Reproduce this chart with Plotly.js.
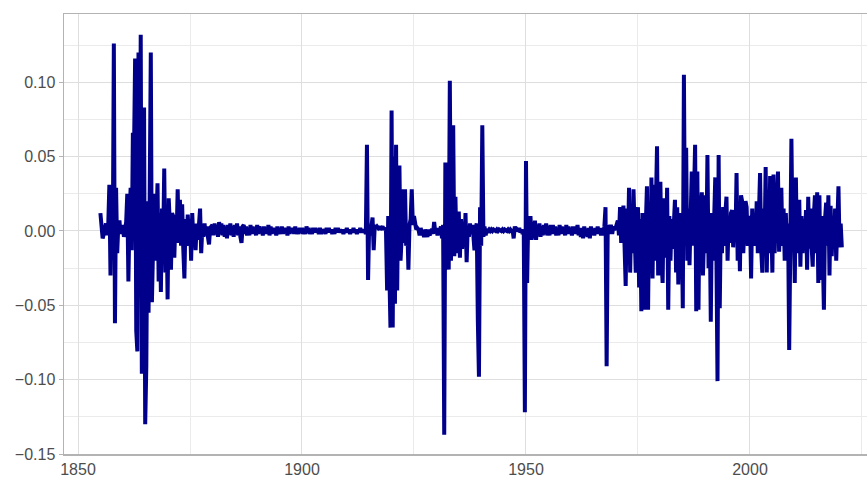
<!DOCTYPE html>
<html>
<head>
<meta charset="utf-8">
<script src="https://cdn.plot.ly/plotly-3.0.1.min.js"></script>
<style>
  html, body { margin: 0; padding: 0; background: #ffffff; overflow: hidden; }
  #chart { width: 867px; height: 480px; }
</style>
</head>
<body>
<div id="chart"></div>
<script>
// Quarterly observations, first sample at 1855.0, one sample every quarter year
const startYear = 1855;
const stepYears = 0.25;

const values = [
  // 1855-1879
  0.012, 0.004, -0.005, -0.002,
  0.003, 0.005, -0.003, 0.004,
  0.031, -0.030, 0.028, -0.018,
  0.126, -0.062, 0.029, -0.015,
  0.004, 0.007, -0.002, 0.003,
  0.004, -0.004, 0.002, 0.006,
  0.025, -0.034, 0.010, 0.029,
  -0.013, 0.066, 0.052, 0.116,
  -0.067, -0.081, 0.120, -0.040,
  0.132, -0.096, 0.040, 0.083,
  -0.130, -0.091, 0.020, -0.055,
  0.023, 0.120, -0.048, 0.015,
  0.025, -0.020, 0.018, 0.032,
  -0.034, 0.012, -0.041, 0.015,
  -0.010, 0.042, -0.028, 0.010,
  -0.046, 0.022, 0.005, -0.026,
  0.012, 0.010, -0.018, 0.008,
  -0.005, 0.028, -0.008, 0.021,
  -0.010, 0.018, -0.012, -0.032,
  0.008, -0.010, 0.011, -0.005,
  0.008, -0.020, 0.012, -0.006,
  0.004, -0.013, 0.005, -0.006,
  0.004, 0.015, -0.015, 0.002,
  -0.004, 0.005, -0.003, 0.003,
  -0.004, -0.009, 0.002, 0.003,
  // 1880-1913
  0.004, -0.003, 0.005, -0.002,
  0.003, -0.004, 0.006, -0.002,
  0.005, -0.003, 0.004, -0.004,
  0.003, -0.005, 0.004, -0.002,
  0.005, -0.003, 0.003, -0.004,
  0.004, -0.002, 0.005, -0.003,
  0.003, -0.004, -0.008, 0.003,
  0.004, -0.002, 0.003, -0.003,
  0.002, -0.003, 0.004, -0.002,
  0.003, -0.002, 0.002, -0.003,
  0.004, -0.002, 0.003, -0.001,
  0.002, -0.003, 0.003, -0.002,
  0.002, -0.002, 0.004, -0.003,
  0.003, -0.002, 0.002, -0.001,
  0.002, -0.003, 0.003, -0.002,
  0.001, -0.002, 0.003, -0.002,
  0.002, -0.001, 0.002, -0.003,
  0.003, -0.002, 0.002, -0.001,
  0.002, -0.002, 0.003, -0.002,
  0.001, -0.002, 0.002, -0.001,
  0.002, -0.002, 0.001, -0.002,
  0.003, -0.001, 0.002, -0.002,
  0.001, -0.002, 0.002, -0.001,
  0.002, -0.001, 0.001, -0.002,
  0.002, -0.002, 0.001, -0.001,
  0.001, -0.002, 0.002, -0.001,
  0.002, -0.001, 0.001, -0.002,
  0.001, -0.002, 0.002, -0.001,
  0.002, -0.001, 0.001, -0.001,
  0.001, -0.002, 0.001, -0.001,
  0.002, -0.001, 0.001, -0.002,
  0.001, -0.001, 0.002, -0.001,
  0.001, -0.002, 0.001, -0.001,
  0.002, -0.001, 0.001, -0.001,
  // 1914-1949
  0.001, -0.002, 0.058, -0.033,
  0.004, -0.003, 0.002, 0.009,
  -0.013, 0.004, 0.002, 0.003,
  0.002, 0.003, 0.001, 0.002,
  0.003, 0.001, 0.002, 0.000,
  -0.040, 0.010, -0.030, -0.065,
  0.081, -0.065, 0.050, -0.049,
  0.058, -0.040, 0.030, 0.044,
  -0.020, -0.004, 0.028, -0.008,
  0.028, -0.010, 0.005, -0.026,
  0.004, 0.008, 0.028, 0.004,
  0.010, 0.003, 0.001, 0.002,
  0.001, -0.003, 0.002, -0.002,
  -0.001, -0.004, 0.001, -0.002,
  -0.004, 0.001, -0.003, 0.000,
  0.001, -0.002, 0.006, -0.001,
  0.001, -0.003, 0.002, -0.001,
  0.003, -0.005, 0.004, -0.137,
  0.046, -0.010, 0.020, -0.026,
  0.101, -0.020, 0.030, 0.071,
  -0.017, 0.023, -0.015, 0.010,
  0.013, -0.018, 0.008, -0.012,
  0.006, -0.010, 0.012, -0.021,
  0.003, -0.004, 0.005, -0.002,
  0.004, -0.003, -0.013, 0.002,
  0.005, -0.060, -0.098, 0.016,
  -0.010, 0.071, -0.004, 0.003,
  -0.003, 0.001, 0.000, 0.001,
  0.000, 0.001, 0.000, 0.001,
  0.000, 0.000, 0.001, 0.000,
  0.001, 0.000, 0.000, 0.001,
  0.000, 0.001, 0.000, 0.000,
  0.001, 0.000, 0.001, 0.000,
  0.001, -0.005, 0.003, 0.000,
  0.001, 0.000, 0.002, -0.001,
  0.001, -0.002, 0.001, -0.122,
  // 1950-1969
  0.047, -0.035, 0.008, -0.006,
  0.010, -0.006, 0.006, -0.005,
  0.007, -0.006, 0.004, -0.003,
  0.005, -0.004, 0.003, -0.003,
  0.004, -0.002, 0.005, -0.003,
  0.003, -0.003, 0.004, -0.002,
  0.004, -0.002, 0.003, -0.003,
  0.002, -0.003, 0.004, -0.002,
  0.003, -0.002, 0.002, -0.003,
  0.004, -0.002, 0.003, -0.002,
  0.002, -0.003, 0.003, -0.002,
  0.003, -0.002, 0.004, -0.003,
  0.002, -0.004, 0.002, -0.005,
  0.003, -0.002, 0.001, -0.004,
  0.002, -0.005, 0.003, -0.002,
  0.001, -0.003, 0.002, -0.002,
  0.003, -0.002, 0.002, -0.003,
  0.002, -0.003, 0.003, 0.016,
  -0.091, 0.004, -0.002, 0.003,
  0.003, -0.002, 0.003, 0.001,
  // 1970-1999
  0.002, 0.004, 0.007, -0.003,
  0.016, -0.008, 0.012, 0.017,
  -0.010, -0.037, 0.015, -0.010,
  0.029, -0.028, 0.012, -0.015,
  0.028, -0.020, -0.028, 0.010,
  0.016, -0.038, 0.008, -0.054,
  0.012, -0.010, -0.053, 0.005,
  0.030, -0.053, 0.018, -0.025,
  0.036, -0.032, 0.031, -0.020,
  0.010, 0.057, -0.030, 0.015,
  0.033, -0.020, -0.035, 0.022,
  0.012, -0.018, 0.029, -0.053,
  0.010, -0.020, 0.008, -0.012,
  0.015, 0.021, -0.028, 0.016,
  -0.036, 0.012, -0.015, 0.008,
  -0.052, 0.105, -0.010, 0.056,
  -0.020, 0.015, -0.023, 0.010,
  0.040, -0.010, 0.025, 0.058,
  -0.054, 0.040, -0.053, 0.020,
  0.015, 0.026, -0.030, 0.012,
  0.024, -0.015, 0.051, -0.025,
  0.010, -0.061, 0.012, -0.020,
  0.030, 0.036, -0.015, -0.101,
  0.051, -0.052, 0.010, -0.015,
  0.016, -0.010, 0.012, 0.023,
  -0.020, 0.010, -0.008, 0.012,
  0.014, -0.011, 0.008, -0.006,
  0.039, -0.020, 0.015, -0.027,
  0.024, 0.020, -0.015, 0.010,
  0.020, 0.016, -0.010, 0.008,
  // 2000-2020
  0.010, -0.032, 0.015, -0.008,
  0.012, -0.010, 0.020, -0.015,
  0.010, 0.039, -0.012, -0.028,
  0.015, -0.010, 0.043, -0.028,
  0.020, -0.015, 0.037, -0.020,
  -0.028, 0.038, -0.015, 0.010,
  0.015, 0.040, -0.014, 0.010,
  0.029, -0.010, 0.015, -0.020,
  0.012, -0.010, 0.005, -0.080,
  0.010, 0.062, -0.005, 0.008,
  -0.035, 0.036, -0.015, 0.015,
  0.021, -0.024, 0.010, -0.015,
  0.008, -0.010, 0.014, -0.026,
  0.023, -0.012, 0.015, -0.010,
  -0.024, 0.010, 0.024, -0.015,
  0.026, -0.035, 0.024, -0.033,
  0.010, -0.015, -0.053, 0.008,
  0.019, -0.010, 0.024, -0.030,
  0.017, -0.017, 0.010, -0.012,
  0.015, -0.020, 0.019, 0.030,
  -0.011, 0.005, -0.011
];

const yTickVals = [-0.15, -0.10, -0.05, 0.00, 0.05, 0.10];
const xTickVals = [1850, 1900, 1950, 2000];

const years = values.map((v, i) => startYear + i * stepYears);

const trace = {
  type: 'scatter',
  mode: 'lines',
  x: years,
  y: values,
  line: { color: '#00008B', width: 4, shape: 'linear' },
  hoverinfo: 'skip'
};

const gridMajor = '#dedede';
const gridMinor = '#ebebeb';
const axisLine = '#b3b3b3';

const layout = {
  width: 867,
  height: 480,
  margin: { l: 64, r: 0, t: 14, b: 26, pad: 0 },
  paper_bgcolor: '#ffffff',
  plot_bgcolor: '#ffffff',
  showlegend: false,
  font: { family: '"Liberation Sans", Arial, sans-serif', size: 16, color: '#4d4d4d' },
  xaxis: {
    range: [1846.875, 2026.12],
    tickvals: xTickVals,
    ticktext: xTickVals.map(String),
    showgrid: true,
    gridcolor: gridMajor,
    gridwidth: 1,
    minor: { dtick: 25, tick0: 1850, showgrid: true, gridcolor: gridMinor, gridwidth: 1 },
    zeroline: false,
    showline: true,
    linecolor: axisLine,
    linewidth: 1.5,
    mirror: true,
    ticks: '',
    tickfont: { size: 16, color: '#4d4d4d' }
  },
  yaxis: {
    range: [-0.15, 0.1459],
    tickvals: yTickVals,
    ticktext: yTickVals.map(v => (v < 0 ? '\u2212' : '') + Math.abs(v).toFixed(2)),
    showgrid: true,
    gridcolor: gridMajor,
    gridwidth: 1,
    minor: { dtick: 0.025, tick0: -0.15, showgrid: true, gridcolor: gridMinor, gridwidth: 1 },
    zeroline: false,
    showline: true,
    linecolor: axisLine,
    linewidth: 1.5,
    ticks: 'outside',
    ticklen: 4,
    tickcolor: axisLine,
    tickfont: { size: 16, color: '#4d4d4d' }
  }
};

Plotly.newPlot('chart', [trace], layout, { staticPlot: true, displayModeBar: false });
</script>
</body>
</html>
